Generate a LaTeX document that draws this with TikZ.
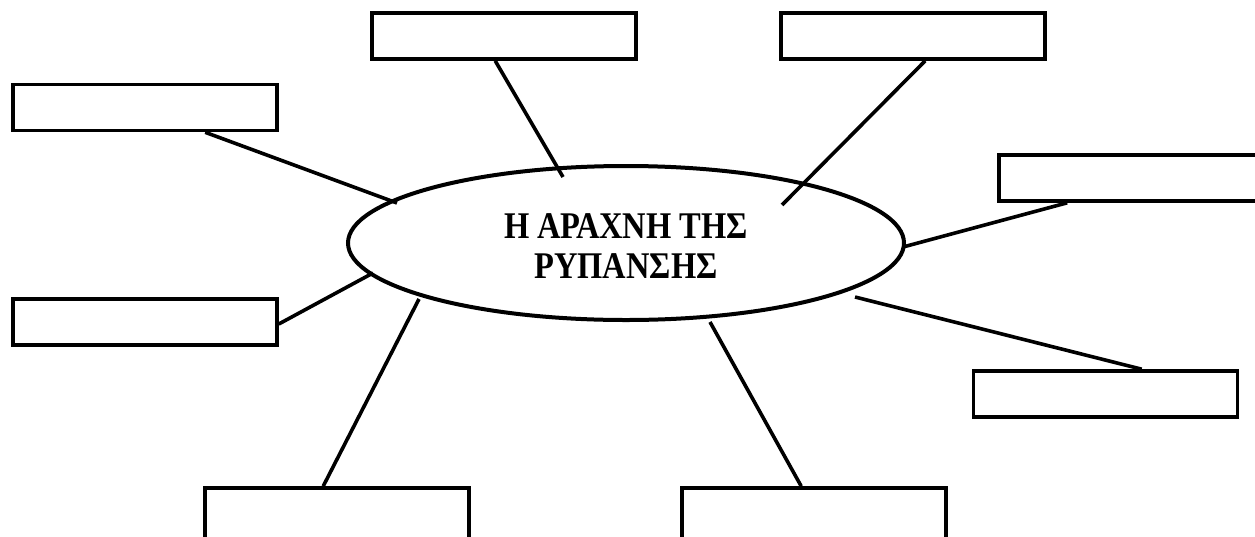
\documentclass[tikz,border=0pt]{standalone}
\usepackage{fontspec}
\usepackage{graphicx}
\setmainfont{Liberation Serif}
\usetikzlibrary{shapes.geometric}
\begin{document}
\begin{tikzpicture}[x=1pt,y=-1pt,
  box/.style={draw, line width=3.6pt, rectangle, minimum width=264pt, minimum height=46pt, inner sep=0pt},
  conn/.style={line width=3.6pt},
  hub/.style={draw, line width=4pt, ellipse, minimum width=556pt, minimum height=154pt, inner sep=0pt},
  hubtext/.style={inner sep=0pt, font=\bfseries\fontsize{32.5}{34.5}\selectfont}]
\useasboundingbox (0,0) rectangle (1255,536);
\clip (0,0) rectangle (1255,536);
\fill[white] (0,0) rectangle (1255,536);
\node[hub] (c) at (626,243) {};
\node[hubtext] (t) at (626,250) {\scalebox{1}[1.16]{\begin{tabular}{@{}c@{}}Η ΑΡΑΧΝΗ ΤΗΣ\\ΡΥΠΑΝΣΗΣ\end{tabular}}};
\node[box] (b1) at (504,36) {};
\node[box] (b2) at (913,36) {};
\node[box] (b3) at (145,107.5) {};
\node[box] (b4) at (1131,178) {};
\node[box] (b5) at (145,322) {};
\node[box] (b6) at (1105.5,394) {};
\node[box, minimum height=70pt] (b7) at (337,523) {};
\node[box, minimum height=70pt] (b8) at (814,523) {};
\coordinate (e1) at (563,177);
\coordinate (e2) at (782,205);
\coordinate (e3) at (397,203);
\coordinate (e4) at (903,247);
\coordinate (e5) at (373,273);
\coordinate (e6) at (855,297);
\coordinate (e7) at (419,299);
\coordinate (e8) at (710,322);
\draw[conn] ([xshift=125pt]b1.south west) -- (e1);
\draw[conn] ([xshift=146pt]b2.south west) -- (e2);
\draw[conn] ([xshift=194pt]b3.south west) -- (e3);
\draw[conn] ([xshift=70pt]b4.south west) -- (e4);
\draw[conn] ([yshift=-2pt]b5.east) -- (e5);
\draw[conn] (e6) -- ([xshift=170pt]b6.north west);
\draw[conn] (e7) -- ([xshift=120pt]b7.north west);
\draw[conn] (e8) -- ([xshift=121pt]b8.north west);
\end{tikzpicture}
\end{document}
